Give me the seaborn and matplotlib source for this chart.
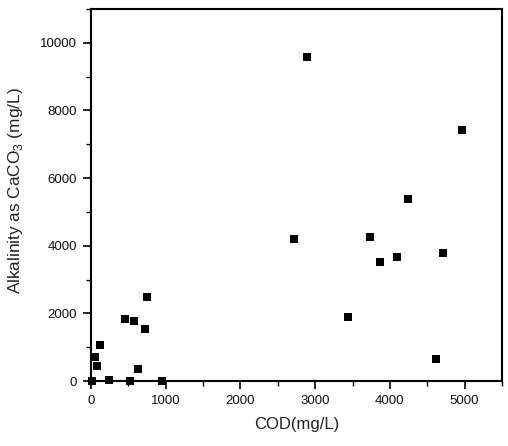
import matplotlib
matplotlib.use("Agg")
import matplotlib.pyplot as plt
from matplotlib.ticker import MultipleLocator
import seaborn as sns
import pandas as pd

cod = [2884, 4968, 4244, 2715, 3728, 3871, 4097, 4711, 3440, 4621,
       746, 461, 581, 728, 124, 53, 80, 635, 17, 240, 524, 947]
alkalinity = [9587, 7425, 5389, 4209, 4248, 3531, 3658, 3796, 1897, 658,
              2487, 1820, 1770, 1543, 1062, 717, 442, 345, 0, 30, 10, 0]

df = pd.DataFrame({"COD": cod, "Alk": alkalinity})

sns.set_theme(style="ticks")
plt.rcParams['font.family'] = ['Liberation Sans', 'DejaVu Sans']

fig = plt.figure(figsize=(5.08, 4.46), dpi=100)
ax = fig.add_axes([91/508, 1 - 381/446, (502 - 91)/508, (381 - 9)/446])

sns.scatterplot(data=df, x="COD", y="Alk", ax=ax, marker="s", s=32,
                color="black", edgecolor="black", linewidth=0, clip_on=False, zorder=5)

ax.set_xlim(0, 5500)
ax.set_ylim(0, 11000)
ax.xaxis.set_major_locator(MultipleLocator(1000))
ax.xaxis.set_minor_locator(MultipleLocator(500))
ax.yaxis.set_major_locator(MultipleLocator(2000))
ax.yaxis.set_minor_locator(MultipleLocator(1000))
ax.tick_params(which="major", direction="out", length=5.5, width=1.2, labelsize=9.5,
               color="black", labelcolor="#111111", pad=4.5)
ax.tick_params(which="minor", direction="out", length=3.5, width=1.0, color="black")
for sp in ax.spines.values():
    sp.set_linewidth(1.5)
    sp.set_color("black")
    sp.set_visible(True)

ax.set_xlabel("COD(mg/L)", fontsize=12, color="#222222", labelpad=7)
ax.set_ylabel(r"Alkalinity as CaCO$_\mathregular{3}$ (mg/L)", fontsize=12.4,
              color="#222222")
ax.yaxis.set_label_coords(-0.16, 0.513)

fig.savefig("out.png", dpi=100)
